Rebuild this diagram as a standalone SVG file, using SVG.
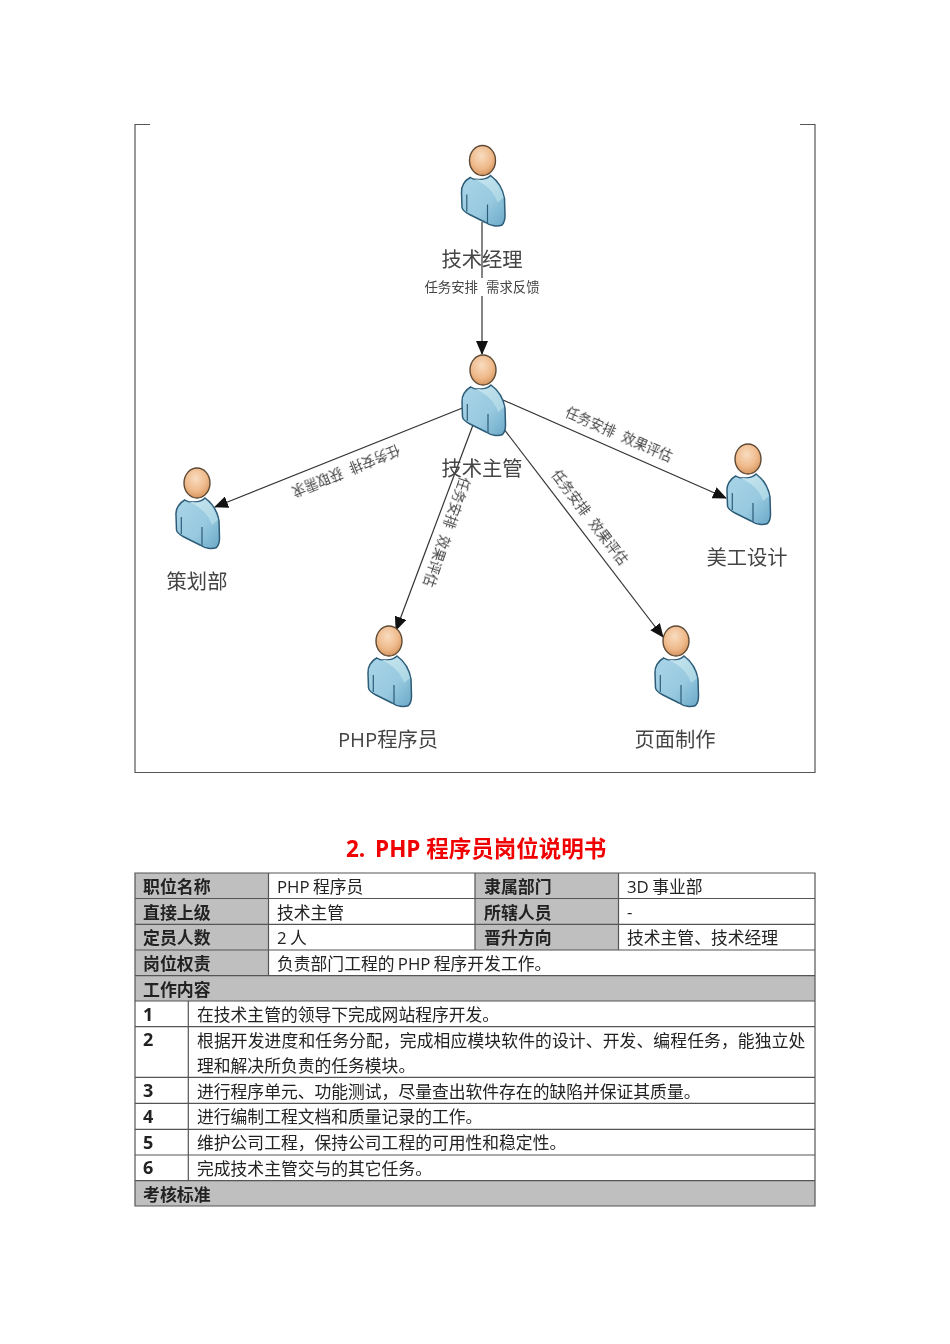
<svg xmlns="http://www.w3.org/2000/svg" xmlns:xlink="http://www.w3.org/1999/xlink" width="950" height="1344" viewBox="0 0 950 1344">
<style>
text{font-family:"Open Sans","Noto Sans CJK SC",sans-serif;filter:url(#soft)}
.name{font-size:20.3px;fill:#444;text-anchor:middle}
.lab{font-size:13.4px;fill:#444;text-anchor:middle;font-family:"Noto Sans CJK SC",sans-serif;word-spacing:5px}
.t{font-size:16.8px;fill:#222;word-spacing:-1px}
.b{font-size:16.9px;fill:#222;font-weight:700}
.g{fill:#bfbfbf}
.grid{stroke:#555;stroke-width:1.2;fill:none}
.conn{stroke:#333;stroke-width:1.2;fill:none;marker-end:url(#arr)}
</style>
<defs>
<filter id="soft" x="-10%" y="-30%" width="120%" height="160%"><feGaussianBlur stdDeviation="0.3"/></filter>
<filter id="pb" x="-10%" y="-10%" width="120%" height="120%"><feGaussianBlur stdDeviation="0.5"/></filter>
<marker id="arr" viewBox="0 0 14 12" refX="13" refY="6" markerWidth="14" markerHeight="12" markerUnits="userSpaceOnUse" orient="auto"><path d="M0 0L14 6L0 12Z" fill="#111"/></marker>
<radialGradient id="hd" cx="0.45" cy="0.35" r="0.7"><stop offset="0" stop-color="#f8dcc0"/><stop offset="0.6" stop-color="#efb98a"/><stop offset="1" stop-color="#cf8f58"/></radialGradient>
<linearGradient id="bd" x1="0" y1="0" x2="1" y2="1"><stop offset="0" stop-color="#aad5e7"/><stop offset="0.6" stop-color="#97c9e0"/><stop offset="1" stop-color="#6aa8c6"/></linearGradient>
<linearGradient id="hl" x1="0" y1="0" x2="1" y2="1"><stop offset="0" stop-color="#c8e6ee"/><stop offset="1" stop-color="#a9d5e4"/></linearGradient>
<g id="person" filter="url(#pb)">
<path d="M-12.300 17C-18 20-21.500 26-21 32L-20.500 47C-20 50-17 52-13 54L3 62C8 65.500 15 66.500 19.500 64.500C22 62 22.500 58 22.500 55L22 38C20.500 29 15 20 8 15C3 20-8 20-12.300 17Z" fill="url(#bd)" stroke="#2d5c78" stroke-width="1.500"/>
<path d="M-9 18C-2 20.500 5 19.500 8 16.500C14 21 19 29 21 37L15 42C12 32 4 24-9 18Z" fill="url(#hl)"/>
<path d="M-15.700 34V51M5 44V63" stroke="#2d5c78" stroke-width="1.200" fill="none"/>
<ellipse cx="0" cy="0" rx="13" ry="15" fill="url(#hd)" stroke="#5f4a35" stroke-width="1.400"/>
</g>
</defs>
<rect width="950" height="1344" fill="#fff"/>
<path id="frame" class="grid" d="M150 124.500H135V772.500H815V124.500H800"/>
<g id="connectors">
<path class="conn" d="M482 222V354"/>
<path class="conn" d="M465 407L215 507"/>
<path class="conn" d="M503 400L726 498"/>
<path class="conn" d="M473 425L396 630"/>
<path class="conn" d="M497 420L663 637"/>
</g>
<g id="manager"><use href="#person" xlink:href="#person" x="482.500" y="160.500"/><text class="name" x="482" y="267">技术经理</text></g>
<g id="lead"><use href="#person" xlink:href="#person" x="483" y="370"/><text class="name" x="482" y="476">技术主管</text></g>
<g id="planning"><use href="#person" xlink:href="#person" x="197" y="483"/><text class="name" x="197" y="589">策划部</text></g>
<g id="art"><use href="#person" xlink:href="#person" x="748" y="459"/><text class="name" x="747" y="565">美工设计</text></g>
<g id="php"><use href="#person" xlink:href="#person" x="389" y="641"/><text class="name" x="388" y="747">PHP程序员</text></g>
<g id="page"><use href="#person" xlink:href="#person" x="676" y="641"/><text class="name" x="675" y="747">页面制作</text></g>
<g id="labels">
<rect x="422" y="278" width="120" height="18" fill="#fff"/>
<text class="lab" x="482" y="292">任务安排 需求反馈</text>
<text class="lab" transform="translate(346 471) rotate(158)" y="5">任务安排 获取需求</text>
<text class="lab" transform="translate(619 434) rotate(23.7)" y="5">任务安排 效果评估</text>
<text class="lab" transform="translate(447 532) rotate(109)" y="5">任务安排 效果评估</text>
<text class="lab" transform="translate(590 517) rotate(52.6)" y="5">任务安排 效果评估</text>
</g>
<text y="857" font-size="22.500" font-weight="700" fill="#f00000"><tspan x="346">2.</tspan><tspan x="375">PHP 程序员岗位说明书</tspan></text>
<g id="table">
<rect class="g" x="135" y="873" width="133.500" height="103"/>
<rect class="g" x="475" y="873" width="143.500" height="77"/>
<rect class="g" x="135" y="976" width="680" height="25"/>
<rect class="g" x="135" y="1181" width="680" height="25"/>
<path class="grid" d="M135 873H815V1206H135ZM135 898.500H815M135 924.300H815M135 950H815M135 975.700H815M135 1001H815M135 1026.700H815M135 1077.300H815M135 1103.300H815M135 1129.300H815M135 1155H815M135 1180.700H815M268.500 873V976M475 873V950M618.500 873V950M188.300 1001V1181"/>
<text class="b" x="143" y="892.500">职位名称</text><text class="t" x="277" y="892.500">PHP 程序员</text><text class="b" x="484" y="892.500">隶属部门</text><text class="t" x="627" y="892.500">3D 事业部</text>
<text class="b" x="143" y="918.500">直接上级</text><text class="t" x="277" y="918.500">技术主管</text><text class="b" x="484" y="918.500">所辖人员</text><text class="t" x="627" y="918">-</text>
<text class="b" x="143" y="943.500">定员人数</text><text class="t" x="277" y="943.500">2 人</text><text class="b" x="484" y="943.500">晋升方向</text><text class="t" x="627" y="943.500">技术主管、技术经理</text>
<text class="b" x="143" y="969.500">岗位权责</text><text class="t" x="277" y="969.500">负责部门工程的 PHP 程序开发工作。</text>
<text class="b" x="143" y="995.500">工作内容</text>
<text class="b" x="143" y="1021" font-size="18" style="font-size:18px">1</text><text class="t" x="197" y="1021">在技术主管的领导下完成网站程序开发。</text>
<text class="b" x="143" y="1046" style="font-size:18px">2</text><text class="t" x="197" y="1046.500" letter-spacing="0.120">根据开发进度和任务分配，完成相应模块软件的设计、开发、编程任务，能独立处</text><text class="t" x="197" y="1072">理和解决所负责的任务模块。</text>
<text class="b" x="143" y="1097" style="font-size:18px">3</text><text class="t" x="197" y="1097.500">进行程序单元、功能测试，尽量查出软件存在的缺陷并保证其质量。</text>
<text class="b" x="143" y="1123" style="font-size:18px">4</text><text class="t" x="197" y="1123">进行编制工程文档和质量记录的工作。</text>
<text class="b" x="143" y="1149" style="font-size:18px">5</text><text class="t" x="197" y="1149">维护公司工程，保持公司工程的可用性和稳定性。</text>
<text class="b" x="143" y="1174" style="font-size:18px">6</text><text class="t" x="197" y="1174.500">完成技术主管交与的其它任务。</text>
<text class="b" x="143" y="1200.500">考核标准</text>
</g>
</svg>
